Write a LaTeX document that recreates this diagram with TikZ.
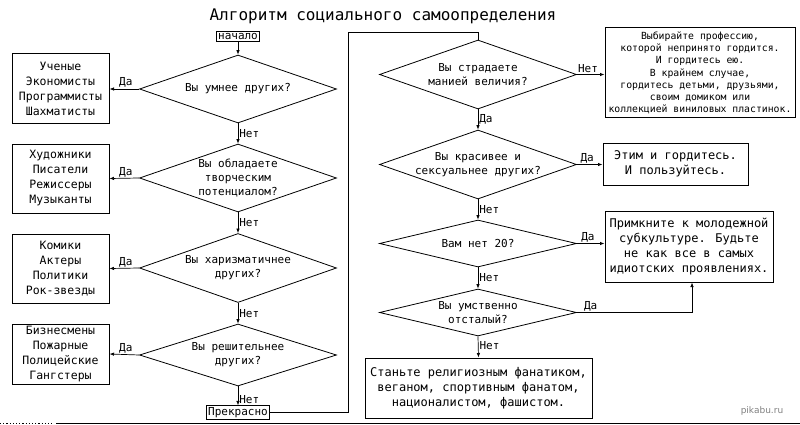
\documentclass[tikz,border=0pt]{standalone}
\usepackage{fontspec}
\setmainfont{DejaVu Sans Mono}
\newfontfamily\wmfont{DejaVu Sans}
\usetikzlibrary{shapes.geometric,arrows.meta}
\tikzset{
  dia/.style={shape=diamond, draw, line width=0.8pt, minimum width=197pt, inner sep=0pt},
  dtxt/.style={align=center, inner sep=0pt, font=\fontsize{11}{14}\selectfont},
  lbox/.style={draw, line width=1pt, minimum width=97pt, align=center, inner sep=1pt, font=\fontsize{11.5}{15}\selectfont},
  rbox/.style={draw, line width=1pt, align=center, inner sep=1pt, font=\fontsize{12}{15}\selectfont},
  small/.style={draw, line width=0.9pt, inner sep=1.5pt, font=\fontsize{11}{12}\selectfont},
  arr/.style={line width=0.7pt, -{Latex[length=4.5pt,width=3.5pt]}},
  ln/.style={line width=0.7pt},
  lab/.style={inner sep=1pt, font=\fontsize{11}{12}\selectfont}
}
\begin{document}
\begin{tikzpicture}[x=1pt,y=-1pt]
\useasboundingbox (0,0) rectangle (800,425);
\node[font=\fontsize{16}{18}\selectfont] (title) at (383,16) {Алгоритм социального самоопределения};

% left column
\node[small] (start) at (238,36.5) {начало};
\node[dia, minimum height=68pt, label={[dtxt]center:{Вы умнее других?}}] (d1) at (238,89) {};
\node[dia, minimum height=68pt, label={[dtxt]center:{Вы обладаете\\творческим\\потенциалом?}}] (d2) at (238,178) {};
\node[dia, minimum height=69pt, label={[dtxt]center:{Вы харизматичнее\\других?}}] (d3) at (238,268) {};
\node[dia, minimum height=62pt, label={[dtxt]center:{Вы решительнее\\других?}}] (d4) at (238,355) {};
\node[small] (pr) at (238,412.5) {Прекрасно};

\node[lbox, minimum height=70pt] (b1) at (60.5,89) {Ученые\\Экономисты\\Программисты\\Шахматисты};
\node[lbox, minimum height=69pt] (b2) at (60.5,178.5) {Художники\\Писатели\\Режиссеры\\Музыканты};
\node[lbox, minimum height=69pt] (b3) at (60.5,268.5) {Комики\\Актеры\\Политики\\Рок-звезды};
\node[lbox, minimum height=60pt] (b4) at (60.5,354) {Бизнесмены\\Пожарные\\Полицейские\\Гангстеры};

\draw[arr] (start) -- (d1.north);
\draw[arr] (d1.south) -- node[lab, anchor=west, pos=0.5] (n1) {Нет} (d2.north);
\draw[arr] (d2.south) -- node[lab, anchor=west, pos=0.5] (n2) {Нет} (d3.north);
\draw[arr] (d3.south) -- node[lab, anchor=west, pos=0.5] (n3) {Нет} (d4.north);
\draw[arr] (d4.south) -- node[lab, anchor=west, pos=0.7] (n4) {Нет} (pr.north);

\draw[arr] (d1.west) -- node[lab, anchor=south, pos=0.45] (y1) {Да} (b1.east);
\draw[arr] (d2.west) -- node[lab, anchor=south, pos=0.45] (y2) {Да} (b2.east);
\draw[arr] (d3.west) -- node[lab, anchor=south, pos=0.45] (y3) {Да} (b3.east);
\draw[arr] (d4.west) -- node[lab, anchor=south, pos=0.45] (y4) {Да} (b4.east);

% right column
\coordinate (c1) at (348,32);
\node[dia, minimum height=69pt, label={[dtxt]center:{Вы страдаете\\манией величия?}}] (d5) at (478,74.5) {};
\node[dia, minimum height=69pt, label={[dtxt]center:{Вы красивее и\\сексуальнее других?}}] (d6) at (478,164.5) {};
\node[dia, minimum height=47pt, label={[dtxt]center:{Вам нет 20?}}] (d7) at (478,243.5) {};
\node[dia, minimum height=47pt, label={[dtxt]center:{Вы умственно\\отсталый?}}] (d8) at (478,312.5) {};

\draw[ln] (pr.east) -| (c1) -| (d5.north);

\node[rbox, minimum width=190pt, minimum height=90pt, font=\fontsize{9.8}{12.2}\selectfont] (b5) at (700,73)
  {Выбирайте профессию,\\которой непринято гордится.\\И гордитесь ею.\\В крайнем случае,\\гордитесь детьми, друзьями,\\своим домиком или\\коллекцией виниловых пластинок.};
\node[rbox, minimum width=145pt, minimum height=42pt] (b6) at (675.5,164) {Этим и гордитесь.\\И пользуйтесь.};
\node[rbox, minimum width=168pt, minimum height=71pt] (b7) at (689,246.5) {Примкните к молодежной\\субкультуре. Будьте\\не как все в самых\\идиотских проявлениях.};
\node[rbox, minimum width=227pt, minimum height=60pt] (b8) at (478.5,388) {Станьте религиозным фанатиком,\\веганом, спортивным фанатом,\\националистом, фашистом.};

\draw[arr] (d5.east) -- node[lab, anchor=south, pos=0.4] (n5) {Нет} (b5.west |- d5.east);
\draw[arr] (d5.south) -- node[lab, anchor=west, pos=0.5] (y5) {Да} (d6.north);
\draw[arr] (d6.east) -- node[lab, anchor=south, pos=0.4] (y6) {Да} (b6.west |- d6.east);
\draw[arr] (d6.south) -- node[lab, anchor=west, pos=0.5] (n6) {Нет} (d7.north);
\draw[arr] (d7.east) -- node[lab, anchor=south, pos=0.4] (y7) {Да} (b7.west |- d7.east);
\draw[arr] (d7.south) -- node[lab, anchor=west, pos=0.5] (n7) {Нет} (d8.north);
\coordinate (c2) at ([xshift=3pt]b7.south);
\draw[arr] (d8.east) -| node[lab, anchor=south, pos=0.06] (y8) {Да} (c2);
\draw[arr] (d8.south) -- node[lab, anchor=west, pos=0.45] (n8) {Нет} (b8.north);

% page edge and watermark
\coordinate (e1) at (0,423.5);
\coordinate (e2) at (53,423.5);
\coordinate (e3) at (56,423.5);
\coordinate (e4) at (800,423.5);
\draw[line width=1.2pt, dotted] (e1) -- (e2);
\draw[line width=1.5pt] (e3) -- (e4);
\node[text=gray, font=\wmfont\fontsize{9}{10}\selectfont] (wm) at (762,411) {pikabu.ru};
\end{tikzpicture}
\end{document}
